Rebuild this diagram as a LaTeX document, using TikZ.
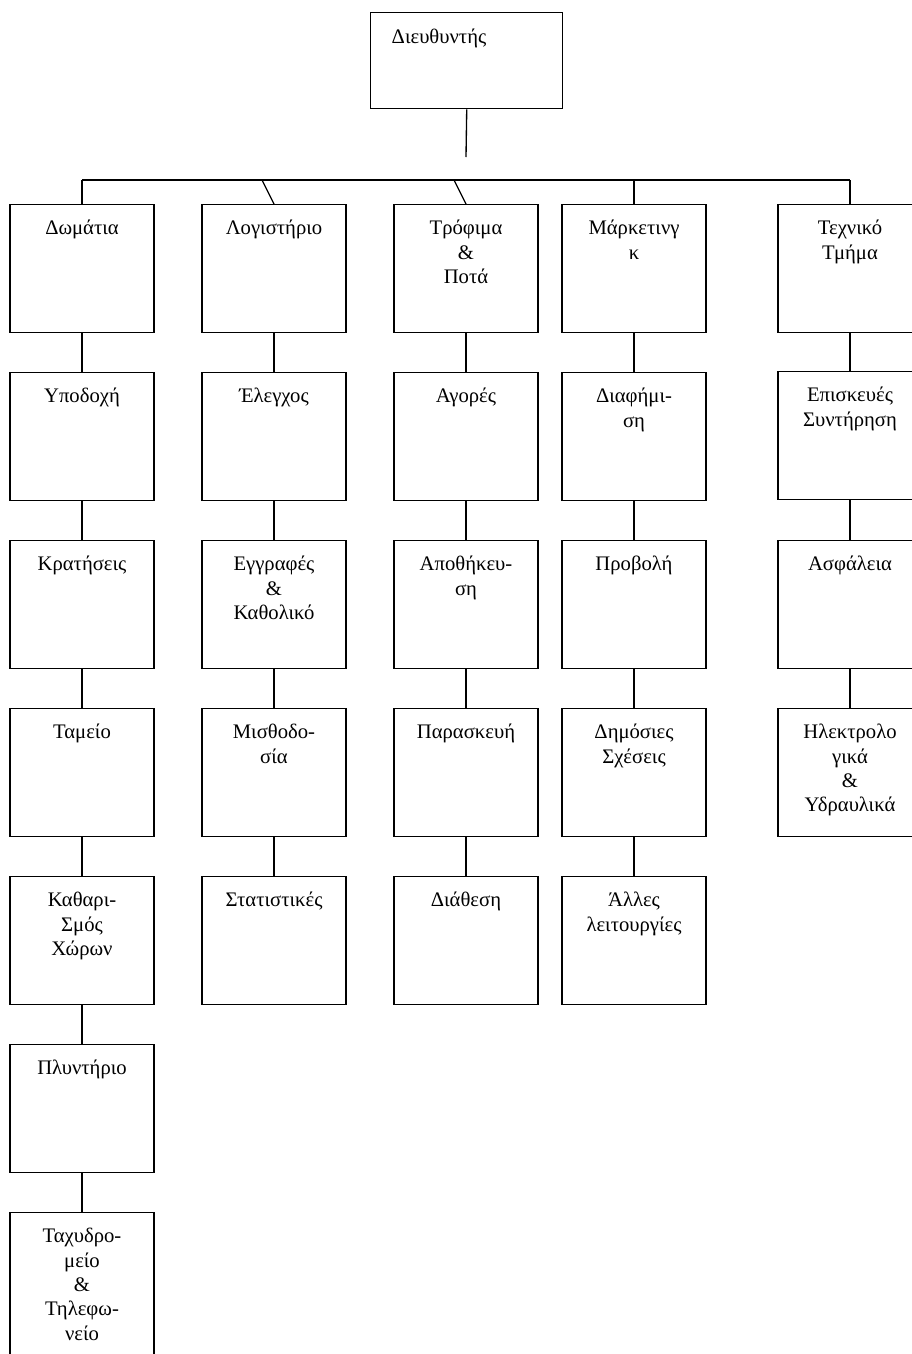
\documentclass[tikz,border=0pt]{standalone}
\usepackage{fontspec}
\setmainfont{Liberation Serif}
\usepackage{tikz}

\begin{document}
\begin{tikzpicture}[x=0.75pt, y=-0.75pt, every node/.style={font=\fontsize{15.5}{18.3}\selectfont},
  unit/.style={draw, line width=1.1pt, anchor=north, inner sep=0pt, text width=108pt, align=center, text height=22.5pt, text depth=73.5pt},
  link/.style={line width=1pt}]
  \useasboundingbox (0,0) rectangle (912,1354);
  \fill[white] (0,0) rectangle (912,1354);
  % director
  \node[draw, line width=1.1pt, anchor=north west, inner xsep=15.75pt, inner ysep=0pt, text width=112.5pt, align=left, text height=23.25pt, text depth=48.75pt] (dir) at (370,12) {Διευθυντής};
  \coordinate (drop) at (466,157);
  \coordinate (busl) at (82,180);
  \coordinate (bus2) at (262,180);
  \coordinate (bus3) at (454,180);
  \coordinate (bus4) at (634,180);
  \coordinate (busr) at (850,180);
  \draw[link] (dir.south) -- (drop);
  \draw[link] (busl) -- (busr);
  % rooms
  \node[unit] (dom1) at (82,204) {Δωμάτια};
  \node[unit] (dom2) at (82,372) {Υποδοχή};
  \node[unit] (dom3) at (82,540) {Κρατήσεις};
  \node[unit] (dom4) at (82,708) {Ταμείο};
  \node[unit] (dom5) at (82,876) {Καθαρι-\\Σμός\\Χώρων};
  \node[unit] (dom6) at (82,1044) {Πλυντήριο};
  \node[unit, text depth=103.5pt] (dom7) at (82,1212) {Ταχυδρο-\\μείο\\\&\\Τηλεφω-\\νείο};
  % accounting
  \node[unit] (log1) at (274,204) {Λογιστήριο};
  \node[unit] (log2) at (274,372) {Έλεγχος};
  \node[unit] (log3) at (274,540) {Εγγραφές\\\&\\Καθολικό};
  \node[unit] (log4) at (274,708) {Μισθοδο-\\σία};
  \node[unit] (log5) at (274,876) {Στατιστικές};
  % food and beverage
  \node[unit] (tro1) at (466,204) {Τρόφιμα\\\&\\Ποτά};
  \node[unit] (tro2) at (466,372) {Αγορές};
  \node[unit] (tro3) at (466,540) {Αποθήκευ-\\ση};
  \node[unit] (tro4) at (466,708) {Παρασκευή};
  \node[unit] (tro5) at (466,876) {Διάθεση};
  % marketing
  \node[unit] (mar1) at (634,204) {Μάρκετινγ\\κ};
  \node[unit] (mar2) at (634,372) {Διαφήμι-\\ση};
  \node[unit] (mar3) at (634,540) {Προβολή};
  \node[unit] (mar4) at (634,708) {Δημόσιες\\Σχέσεις};
  \node[unit] (mar5) at (634,876) {Άλλες\\λειτουργίες};
  % technical
  \node[unit] (tec1) at (850,204) {Τεχνικό\\Τμήμα};
  \node[unit] (tec2) at (850,371) {Επισκευές\\Συντήρηση};
  \node[unit] (tec3) at (850,540) {Ασφάλεια};
  \node[unit] (tec4) at (850,708) {Ηλεκτρολο\\γικά\\\&\\Υδραυλικά};
  % connectors
  \draw[link] (busl) -- (dom1.north);
  \draw[link] (bus2) -- (log1.north);
  \draw[link] (bus3) -- (tro1.north);
  \draw[link] (bus4) -- (mar1.north);
  \draw[link] (busr) -- (tec1.north);
  \draw[link] (dom1) -- (dom2) -- (dom3) -- (dom4) -- (dom5) -- (dom6) -- (dom7);
  \draw[link] (log1) -- (log2) -- (log3) -- (log4) -- (log5);
  \draw[link] (tro1) -- (tro2) -- (tro3) -- (tro4) -- (tro5);
  \draw[link] (mar1) -- (mar2) -- (mar3) -- (mar4) -- (mar5);
  \draw[link] (tec1) -- (tec2) -- (tec3) -- (tec4);
\end{tikzpicture}
\end{document}
